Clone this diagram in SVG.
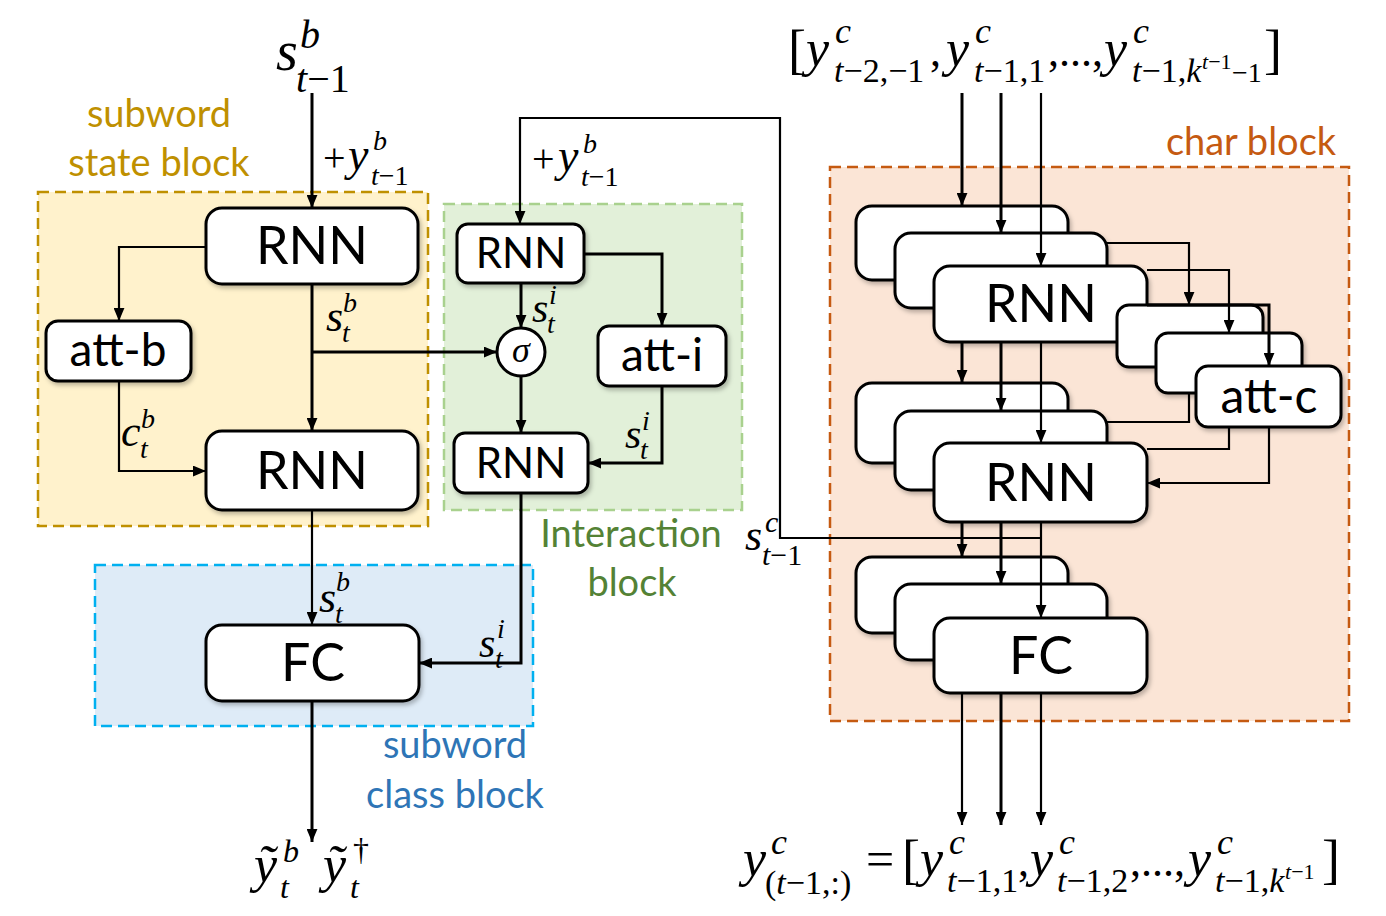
<svg xmlns="http://www.w3.org/2000/svg" width="1386" height="916" viewBox="0 0 1386 916">
<defs>
<marker id="ah" viewBox="0 0 12 10" refX="12" refY="5" markerWidth="13" markerHeight="11" markerUnits="userSpaceOnUse" orient="auto"><path d="M0,0 L12,5 L0,10 z" fill="#000"/></marker>
<filter id="sh" x="-10%" y="-10%" width="125%" height="130%"><feDropShadow dx="2" dy="3" stdDeviation="2" flood-color="#000" flood-opacity="0.25"/></filter>
<style>
.box{fill:#fff;stroke:#000;stroke-width:3;filter:url(#sh)}
.bt{font-family:Lato,"Liberation Sans",Arial,sans-serif;fill:#000;text-anchor:middle}
.lbl{font-family:Lato,"Liberation Sans",Arial,sans-serif;font-size:38px;text-anchor:middle}
.c{fill:none;stroke:#000;stroke-width:3}
.c2{fill:none;stroke:#000;stroke-width:2.2}
.m{font-family:"Liberation Serif","Times New Roman",serif;fill:#000}
.i{font-style:italic}
</style>
</defs>

<!-- blocks -->
<g id="subword-state-block">
<rect x="38" y="192" width="390" height="334" fill="#FFF2CC" stroke="#BF9000" stroke-width="2.5" stroke-dasharray="11,6"/>
<text class="lbl" x="159" y="127" fill="#BF9000">subword</text>
<text class="lbl" x="159" y="176" fill="#BF9000">state block</text>
</g>
<g id="interaction-block">
<rect x="444" y="204" width="298" height="306" fill="#E2F0D9" stroke="#A9D18E" stroke-width="2.5" stroke-dasharray="11,6"/>
<text class="lbl" x="631" y="547" fill="#548235">Interaction</text>
<text class="lbl" x="632" y="596" fill="#548235">block</text>
</g>
<g id="subword-class-block">
<rect x="95" y="565" width="438" height="161" fill="#DEEBF7" stroke="#00B0F0" stroke-width="2.5" stroke-dasharray="11,6"/>
<text class="lbl" x="455" y="758" fill="#2E75B6">subword</text>
<text class="lbl" x="455" y="808" fill="#2E75B6">class block</text>
</g>
<g id="char-block">
<rect x="830" y="167" width="519" height="554" fill="#FBE5D6" stroke="#C55A11" stroke-width="2.5" stroke-dasharray="11,6"/>
<text class="lbl" x="1251" y="155" fill="#C55A11">char block</text>
</g>

<!-- subword nodes -->
<g id="rnn-s1"><rect class="box" x="206" y="208" width="212" height="76" rx="16"/><text class="bt" x="312" y="264" font-size="52">RNN</text></g>
<g id="att-b"><rect class="box" x="46" y="321" width="145" height="60" rx="12"/><text class="bt" x="118" y="366" font-size="46">att-b</text></g>
<g id="rnn-s2"><rect class="box" x="206" y="431" width="212" height="79" rx="16"/><text class="bt" x="312" y="489" font-size="52">RNN</text></g>
<g id="fc-s"><rect class="box" x="206" y="625" width="213" height="76" rx="16"/><text class="bt" x="313" y="681" font-size="52">FC</text></g>

<!-- interaction nodes -->
<g id="rnn-i1"><rect class="box" x="457" y="224" width="127" height="59" rx="11"/><text class="bt" x="521" y="268" font-size="42">RNN</text></g>
<g id="sigma"><circle cx="521" cy="352" r="24" fill="#fff" stroke="#000" stroke-width="3"/><text class="m i" x="521" y="362" font-size="36" text-anchor="middle">σ</text></g>
<g id="att-i"><rect class="box" x="598" y="326" width="128" height="60" rx="11"/><text class="bt" x="662" y="371" font-size="46">att-i</text></g>
<g id="rnn-i2"><rect class="box" x="454" y="433" width="134" height="60" rx="11"/><text class="bt" x="521" y="478" font-size="42">RNN</text></g>

<!-- char nodes -->
<g id="rnn-c1">
<rect class="box" x="856" y="206" width="212" height="74" rx="16"/>
<rect class="box" x="895" y="233" width="212" height="75" rx="16"/>
<rect class="box" x="934" y="266" width="213" height="76" rx="16"/>
<text class="bt" x="1041" y="322" font-size="52">RNN</text>
</g>
<g id="att-c">
<rect class="box" x="1117" y="305" width="146" height="62" rx="12"/>
<rect class="box" x="1156" y="333" width="146" height="60" rx="12"/>
<rect class="box" x="1196" y="366" width="145" height="61" rx="12"/>
<text class="bt" x="1269" y="413" font-size="48">att-c</text>
</g>
<g id="rnn-c2">
<rect class="box" x="856" y="383" width="212" height="80" rx="16"/>
<rect class="box" x="895" y="411" width="212" height="79" rx="16"/>
<rect class="box" x="934" y="443" width="213" height="79" rx="16"/>
<text class="bt" x="1041" y="501" font-size="52">RNN</text>
</g>
<g id="fc-c">
<rect class="box" x="856" y="557" width="212" height="76" rx="16"/>
<rect class="box" x="895" y="584" width="212" height="76" rx="16"/>
<rect class="box" x="934" y="618" width="213" height="75" rx="16"/>
<text class="bt" x="1041" y="674" font-size="52">FC</text>
</g>

<!-- connectors -->
<g id="connectors">
<path class="c" d="M312,93 V208" marker-end="url(#ah)"/>
<path class="c2" d="M206,247 H119 V321" marker-end="url(#ah)"/>
<path class="c" d="M312,284 V431" marker-end="url(#ah)"/>
<path class="c" d="M312,352 H497" marker-end="url(#ah)"/>
<path class="c2" d="M119,381 V471 H206" marker-end="url(#ah)"/>
<path class="c2" d="M312,510 V625" marker-end="url(#ah)"/>
<path class="c" d="M312,701 V842" marker-end="url(#ah)"/>
<path class="c2" d="M1041,538 H780 V118 H520 V224" marker-end="url(#ah)"/>
<path class="c" d="M521,283 V328" marker-end="url(#ah)"/>
<path class="c" d="M584,254 H662 V326" marker-end="url(#ah)"/>
<path class="c" d="M521,376 V433" marker-end="url(#ah)"/>
<path class="c" d="M662,386 V463 H588" marker-end="url(#ah)"/>
<path class="c" d="M521,493 V663 H419" marker-end="url(#ah)"/>
<path class="c" d="M962,93 V206" marker-end="url(#ah)"/>
<path class="c" d="M1001,93 V233" marker-end="url(#ah)"/>
<path class="c2" d="M1041,93 V266" marker-end="url(#ah)"/>
<path class="c2" d="M1107,243 H1189 V305" marker-end="url(#ah)"/>
<path class="c2" d="M1147,270 H1229 V333" marker-end="url(#ah)"/>
<path class="c" d="M1147,305 H1269 V366" marker-end="url(#ah)"/>
<path class="c" d="M962,342 V383" marker-end="url(#ah)"/>
<path class="c" d="M1001,342 V411" marker-end="url(#ah)"/>
<path class="c2" d="M1041,342 V443" marker-end="url(#ah)"/>
<path class="c2" d="M1189,393 V422 H1107"/>
<path class="c2" d="M1229,427 V449 H1147"/>
<path class="c2" d="M1269,427 V483 H1147" marker-end="url(#ah)"/>
<path class="c" d="M962,522 V557" marker-end="url(#ah)"/>
<path class="c" d="M1001,522 V584" marker-end="url(#ah)"/>
<path class="c2" d="M1041,522 V618" marker-end="url(#ah)"/>
<path class="c2" d="M962,693 V825" marker-end="url(#ah)"/>
<path class="c" d="M1001,693 V825" marker-end="url(#ah)"/>
<path class="c2" d="M1041,693 V825" marker-end="url(#ah)"/>
</g>

<!-- math labels -->
<g id="labels">
<!-- s^b_{t-1} top -->
<text class="m i" x="276" y="70" font-size="56">s</text>
<text class="m i" x="300" y="48" font-size="40">b</text>
<text class="m" x="296" y="92" font-size="40"><tspan class="i">t</tspan>−1</text>
<!-- +y^b_{t-1} subword -->
<text class="m" x="323" y="171" font-size="40">+</text>
<text class="m i" x="348" y="170" font-size="46">y</text>
<text class="m i" x="373" y="150" font-size="28">b</text>
<text class="m" x="371" y="185" font-size="28"><tspan class="i">t</tspan>−1</text>
<!-- +y^b_{t-1} interaction -->
<text class="m" x="532" y="172" font-size="40">+</text>
<text class="m i" x="558" y="171" font-size="46">y</text>
<text class="m i" x="583" y="153" font-size="28">b</text>
<text class="m" x="581" y="186" font-size="28"><tspan class="i">t</tspan>−1</text>
<!-- s^b_t -->
<text class="m i" x="326" y="331" font-size="44">s</text>
<text class="m i" x="343" y="312" font-size="28">b</text>
<text class="m i" x="342" y="342" font-size="28">t</text>
<!-- c^b_t -->
<text class="m i" x="121" y="446" font-size="44">c</text>
<text class="m i" x="141" y="428" font-size="28">b</text>
<text class="m i" x="140" y="458" font-size="28">t</text>
<!-- s^i_t sigma -->
<text class="m i" x="532" y="322" font-size="42">s</text>
<text class="m i" x="549" y="304" font-size="28">i</text>
<text class="m i" x="547" y="333" font-size="28">t</text>
<!-- s^i_t att-i -->
<text class="m i" x="625" y="448" font-size="42">s</text>
<text class="m i" x="642" y="430" font-size="28">i</text>
<text class="m i" x="640" y="459" font-size="28">t</text>
<!-- s^b_t FC -->
<text class="m i" x="319" y="612" font-size="44">s</text>
<text class="m i" x="336" y="591" font-size="28">b</text>
<text class="m i" x="335" y="623" font-size="28">t</text>
<!-- s^i_t FC -->
<text class="m i" x="479" y="657" font-size="42">s</text>
<text class="m i" x="497" y="638" font-size="28">i</text>
<text class="m i" x="495" y="668" font-size="28">t</text>
<!-- s^c_{t-1} -->
<text class="m i" x="745" y="550" font-size="44">s</text>
<text class="m i" x="765" y="532" font-size="30">c</text>
<text class="m" x="762" y="565" font-size="30"><tspan class="i">t</tspan>−1</text>
<!-- output tilde y -->
<text class="m i" x="254" y="882" font-size="52">ỹ</text>
<text class="m i" x="283" y="862" font-size="32">b</text>
<text class="m i" x="280" y="898" font-size="32">t</text>
<text class="m i" x="323" y="882" font-size="52">ỹ</text>
<text class="m" x="353" y="860" font-size="32">†</text>
<text class="m i" x="350" y="898" font-size="32">t</text>
<!-- top equation -->
<text class="m" x="788" y="68" font-size="54">[</text>
<text class="m i" x="806" y="66" font-size="52">y</text>
<text class="m i" x="835" y="43" font-size="36">c</text>
<text class="m" x="834" y="82" font-size="34"><tspan class="i">t</tspan>−2,−1</text>
<text class="m" x="930" y="66" font-size="44">,</text>
<text class="m i" x="946" y="66" font-size="52">y</text>
<text class="m i" x="975" y="43" font-size="36">c</text>
<text class="m" x="974" y="82" font-size="34"><tspan class="i">t</tspan>−1,1</text>
<text class="m" x="1048" y="66" font-size="44">,...,</text>
<text class="m i" x="1104" y="66" font-size="52">y</text>
<text class="m i" x="1133" y="43" font-size="36">c</text>
<text class="m" x="1132" y="82" font-size="34"><tspan class="i">t</tspan>−1,<tspan class="i">k</tspan></text>
<text class="m" x="1202" y="69" font-size="22"><tspan class="i">t</tspan>−1</text>
<text class="m" x="1232" y="82" font-size="28">−1</text>
<text class="m" x="1264" y="68" font-size="54">]</text>
<!-- bottom equation -->
<text class="m i" x="743" y="876" font-size="52">y</text>
<text class="m i" x="771" y="854" font-size="36">c</text>
<text class="m" x="765" y="894" font-size="34">(<tspan class="i">t</tspan>−1,:)</text>
<text class="m" x="866" y="876" font-size="50">=</text>
<text class="m" x="902" y="878" font-size="54">[</text>
<text class="m i" x="920" y="876" font-size="52">y</text>
<text class="m i" x="949" y="854" font-size="36">c</text>
<text class="m" x="947" y="892" font-size="34"><tspan class="i">t</tspan>−1,1</text>
<text class="m" x="1018" y="876" font-size="44">,</text>
<text class="m i" x="1030" y="876" font-size="52">y</text>
<text class="m i" x="1059" y="854" font-size="36">c</text>
<text class="m" x="1057" y="892" font-size="34"><tspan class="i">t</tspan>−1,2</text>
<text class="m" x="1130" y="876" font-size="44">,...,</text>
<text class="m i" x="1188" y="876" font-size="52">y</text>
<text class="m i" x="1217" y="854" font-size="36">c</text>
<text class="m" x="1215" y="892" font-size="34"><tspan class="i">t</tspan>−1,<tspan class="i">k</tspan></text>
<text class="m" x="1285" y="879" font-size="22"><tspan class="i">t</tspan>−1</text>
<text class="m" x="1322" y="878" font-size="54">]</text>
</g>
</svg>
